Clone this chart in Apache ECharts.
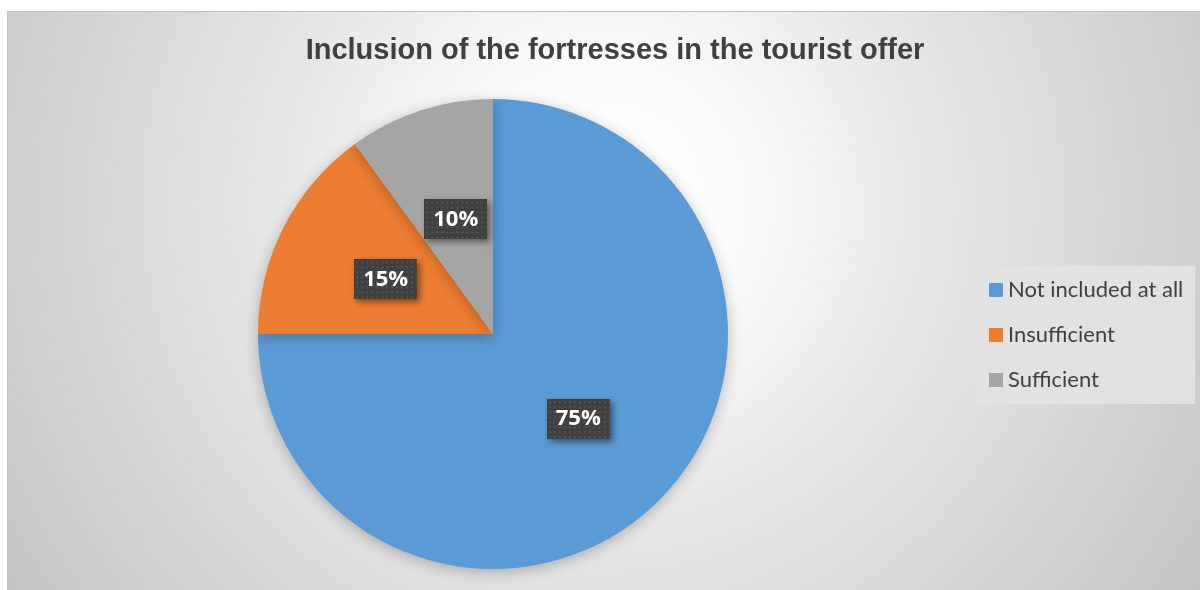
<!DOCTYPE html>
<html>
<head>
<meta charset="utf-8">
<title>Inclusion of the fortresses in the tourist offer</title>
<script src="https://cdn.jsdelivr.net/npm/echarts@6/dist/echarts.min.js"></script>
<style>
  html, body { margin: 0; padding: 0; background: #fff; }
  #main {
    position: absolute; left: 7px; top: 11px; width: 1193px; height: 579px;
    border-top: 1px solid #c4c4c4; border-left: 1px solid #c4c4c4; box-sizing: border-box;
    background: radial-gradient(circle 720px at 595px 190px, #ffffff 0px, #fbfbfb 140px, #e6e6e6 330px, #d7d7d7 510px, #c4c4c4 720px);
  }
</style>
</head>
<body>
<div id="main"></div>
<script>
    var categories = ['Not included at all', 'Insufficient', 'Sufficient'];
    var values = [75, 15, 10];
    var colors = ['#5B9BD5', '#ED7D31', '#A5A5A5'];

    // dark dotted box behind the percentage labels
    function dotBox(w, h) {
        var c = document.createElement('canvas');
        c.width = w; c.height = h;
        var ctx = c.getContext('2d');
        ctx.fillStyle = '#404040';
        ctx.fillRect(0, 0, w, h);
        ctx.fillStyle = '#535353';
        for (var y = 2; y < h; y += 5) {
            for (var x = 2; x < w; x += 5) {
                ctx.fillRect(x, y, 2, 2);
            }
        }
        return c;
    }

    var chart = echarts.init(document.getElementById('main'));
    var pieData = categories.map(function (name, i) {
        return { name: name, value: values[i], itemStyle: { color: colors[i] } };
    });

    var option = {
        backgroundColor: 'transparent',
        animation: false,
        title: {
            text: 'Inclusion of the fortresses in the tourist offer',
            left: 602,
            textAlign: 'center',
            top: 19,
            textStyle: {
                fontFamily: 'Liberation Sans',
                fontSize: 29,
                fontWeight: 'bold',
                color: '#404040'
            }
        },
        legend: {
            orient: 'vertical',
            left: 967,
            top: 254,
            padding: [13, 12, 13, 14],
            backgroundColor: '#e2e2e2',
            itemWidth: 14,
            itemHeight: 14,
            itemGap: 23,
            icon: 'rect',
            textStyle: {
                fontFamily: 'Lato',
                fontSize: 22,
                lineHeight: 22,
                color: '#404040'
            },
            data: categories
        },
        series: [
            {
                type: 'pie',
                center: [485, 322],
                radius: 235,
                startAngle: 90,
                clockwise: true,
                data: pieData,
                itemStyle: {
                    shadowBlur: 14,
                    shadowColor: 'rgba(0,0,0,0.25)',
                    shadowOffsetY: 3
                },
                label: {
                    show: true,
                    position: 'inside',
                    formatter: '{c}%',
                    fontFamily: 'Open Sans',
                    fontWeight: 'bold',
                    fontSize: 22,
                    color: '#ffffff',
                    width: 49,
                    height: 24,
                    overflow: 'none',
                    align: 'center',
                    verticalAlign: 'middle',
                    padding: [8, 7],
                    backgroundColor: { image: dotBox(63, 40) },
                    shadowBlur: 6,
                    shadowOffsetX: 3,
                    shadowOffsetY: 3,
                    shadowColor: 'rgba(0,0,0,0.45)'
                },
                labelLine: { show: false },
                emphasis: { disabled: true }
            }
        ]
    };
    chart.setOption(option);
</script>
</body>
</html>
